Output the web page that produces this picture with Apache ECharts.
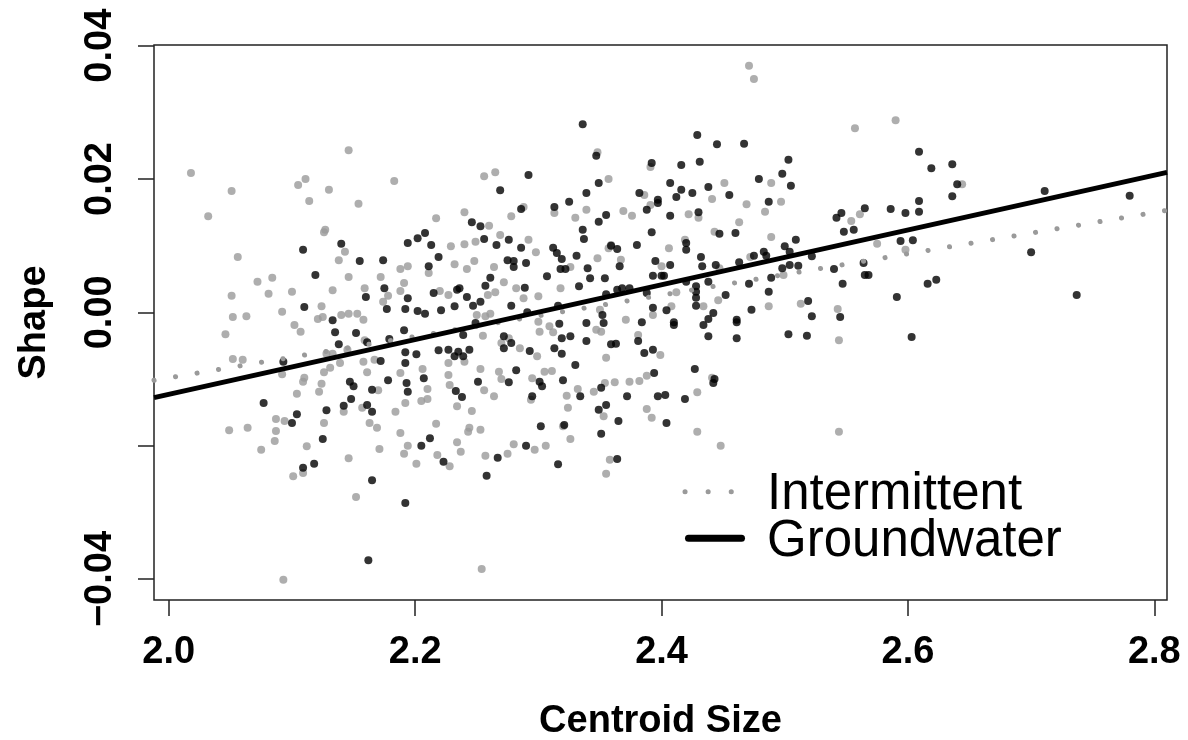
<!DOCTYPE html>
<html>
<head>
<meta charset="utf-8">
<script src="https://cdn.jsdelivr.net/npm/echarts@6/dist/echarts.min.js"></script>
<style>
html,body{margin:0;padding:0;background:#fff;}
#chart{width:1188px;height:740px;}
</style>
</head>
<body>
<div id="chart"></div>
<script>
// ---- data (Centroid Size, Shape) ----
const xTicks = [2.0, 2.2, 2.4, 2.6, 2.8];
const yTicks = [-0.04, -0.02, 0.00, 0.02, 0.04];
const yLabelValues = [-0.04, 0.00, 0.02, 0.04];
const seriesNames = ['Intermittent', 'Groundwater'];

const intermittentPts = [
[2.018,0.0209],[2.051,0.0182],[2.032,0.0144],[2.105,0.0191],[2.111,0.0200],[2.130,0.0184],[2.114,0.0167],[2.146,0.0243],
[2.154,0.0163],[2.183,0.0197],[2.127,0.0124],[2.126,0.0120],[2.348,0.0240],[2.391,0.0218],[2.256,0.0204],[2.265,0.0210],
[2.357,0.0200],[2.313,0.0149],[2.288,0.0158],[2.386,0.0176],[2.391,0.0161],[2.369,0.0152],[2.376,0.0145],[2.339,0.0154],
[2.330,0.0142],[2.217,0.0141],[2.240,0.0150],[2.278,0.0144],[2.260,0.0130],[2.269,0.0116],[2.292,0.0109],
[2.471,0.0370],[2.475,0.0350],[2.557,0.0276],[2.590,0.0288],[2.451,0.0194],[2.441,0.0170],[2.489,0.0194],[2.497,0.0166],
[2.469,0.0162],[2.422,0.0147],[2.430,0.0142],[2.484,0.0151],[2.463,0.0135],[2.443,0.0121],[2.419,0.0109],[2.489,0.0113],
[2.561,0.0147],[2.554,0.0137],[2.644,0.0192],
[2.056,0.0083],[2.072,0.0046],[2.084,0.0052],[2.081,0.0028],[2.051,0.0025],[2.100,0.0031],[2.143,0.0091],[2.138,0.0078],
[2.146,0.0053],[2.133,0.0033],[2.172,0.0053],[2.178,0.0025],[2.159,0.0036],[2.188,0.0065],[2.194,0.0069],[2.191,0.0044],
[2.188,0.0032],[2.052,-0.0007],[2.063,-0.0006],[2.046,-0.0033],[2.092,0.0001],[2.124,0.0009],[2.121,-0.0010],[2.125,-0.0007],
[2.102,-0.0019],[2.107,-0.0029],[2.140,-0.0004],[2.146,-0.0002],[2.153,-0.0002],[2.158,-0.0011],[2.159,-0.0042],[2.174,0.0016],
[2.052,-0.0070],[2.060,-0.0071],[2.128,-0.0062],[2.133,-0.0062],[2.145,-0.0056],[2.092,-0.0093],[2.126,-0.0090],[2.131,-0.0083],
[2.139,-0.0076],[2.158,-0.0074],[2.167,-0.0071],[2.161,-0.0090],[2.188,-0.0091],[2.110,-0.0098],[2.109,-0.0104],[2.124,-0.0107],
[2.122,-0.0119],[2.104,-0.0122],[2.170,-0.0117],[2.157,-0.0143],[2.184,-0.0149],[2.192,-0.0136],[2.087,-0.0160],[2.094,-0.0163],
[2.049,-0.0177],[2.064,-0.0173],[2.087,-0.0178],[2.126,-0.0166],[2.142,-0.0149],[2.163,-0.0166],[2.169,-0.0173],[2.188,-0.0181],
[2.086,-0.0193],[2.075,-0.0206],[2.112,-0.0201],[2.109,-0.0241],[2.101,-0.0246],[2.146,-0.0219],[2.152,-0.0277],[2.171,-0.0205],
[2.191,-0.0212],[2.194,-0.0200],[2.093,-0.0401],
[2.201,-0.0227],[2.218,-0.0214],[2.228,-0.0231],[2.234,-0.0195],[2.237,-0.0209],[2.243,-0.0179],[2.253,-0.0176],[2.257,-0.0215],
[2.275,-0.0212],[2.280,-0.0198],[2.297,-0.0206],[2.306,-0.0200],[2.326,-0.0190],[2.358,-0.0221],[2.355,-0.0242],[2.254,-0.0385],
[2.429,-0.0179],[2.448,-0.0200],[2.544,-0.0179],
[2.406,0.0096],[2.447,0.0066],[2.472,0.0083],[2.499,0.0056],[2.575,0.0103],[2.598,0.0094],[2.412,0.0030],[2.434,0.0009],
[2.408,0.0009],[2.446,0.0018],[2.487,0.0009],[2.513,0.0013],[2.543,0.0005],[2.544,-0.0042],[2.399,-0.0064],[2.441,-0.0098],
[2.429,-0.0120],
[2.229,0.0099],[2.240,0.0102],[2.249,0.0106],[2.211,0.0059],[2.232,0.0072],[2.242,0.0065],[2.248,0.0077],[2.264,0.0068],
[2.298,0.0090],[2.326,0.0068],[2.348,0.0081],[2.357,0.0096],[2.359,0.0101],[2.367,0.0079],[2.400,0.0069],[2.318,0.0036],
[2.282,0.0036],[2.288,0.0021],[2.272,0.0045],[2.265,0.0030],[2.259,0.0026],[2.227,0.0026],[2.220,0.0032],[2.257,-0.0006],
[2.261,-0.0002],[2.250,-0.0004],[2.300,0.0024],[2.300,-0.0014],[2.309,-0.0021],[2.312,-0.0030],[2.350,0.0004],[2.351,-0.0029],
[2.301,-0.0029],[2.371,-0.0011],[2.381,-0.0034],[2.393,-0.0004],[2.347,-0.0026],[2.355,-0.0068],[2.299,-0.0066],[2.285,-0.0054],
[2.270,-0.0046],[2.276,-0.0039],[2.255,-0.0035],[2.240,-0.0074],[2.206,-0.0085],[2.227,-0.0076],[2.227,-0.0094],[2.228,-0.0109],
[2.210,-0.0115],[2.205,-0.0133],[2.210,-0.0130],[2.234,-0.0141],[2.246,-0.0148],[2.256,-0.0117],[2.253,-0.0085],[2.268,-0.0089],
[2.270,-0.0100],[2.264,-0.0126],[2.295,-0.0099],[2.305,-0.0089],[2.311,-0.0088],[2.294,-0.0131],[2.323,-0.0125],[2.332,-0.0115],
[2.324,-0.0143],[2.345,-0.0119],[2.354,-0.0106],[2.353,-0.0156],[2.362,-0.0105],[2.374,-0.0104],[2.382,-0.0103],[2.388,-0.0095],
[2.388,-0.0145],[2.392,-0.0158],[2.320,-0.0171],[2.217,-0.0167],[2.244,-0.0173]
];

const groundwaterPts = [
[2.336,0.0282],[2.347,0.0235],[2.392,0.0224],[2.292,0.0206],[2.269,0.0183],[2.349,0.0194],[2.339,0.0179],[2.325,0.0166],
[2.313,0.0158],[2.286,0.0155],[2.382,0.0179],[2.397,0.0169],[2.397,0.0164],[2.388,0.0154],[2.355,0.0146],[2.349,0.0136],
[2.336,0.0124],[2.392,0.0120],[2.246,0.0135],[2.253,0.0129],[2.208,0.0119],[2.202,0.0111],[2.256,0.0110],[2.276,0.0109],
[2.337,0.0110],
[2.429,0.0266],[2.445,0.0252],[2.467,0.0253],[2.416,0.0221],[2.431,0.0226],[2.503,0.0229],[2.407,0.0194],[2.416,0.0184],
[2.412,0.0173],[2.425,0.0179],[2.438,0.0188],[2.455,0.0176],[2.479,0.0200],[2.498,0.0208],[2.505,0.0190],[2.487,0.0166],
[2.430,0.0150],[2.407,0.0145],[2.447,0.0118],[2.460,0.0119],[2.509,0.0109],[2.542,0.0142],[2.546,0.0149],[2.565,0.0156],
[2.548,0.0121],[2.556,0.0124],[2.586,0.0155],[2.598,0.0149],[2.609,0.0241],[2.609,0.0167],[2.609,0.0151],
[2.619,0.0216],[2.636,0.0222],[2.640,0.0192],[2.636,0.0174],[2.711,0.0182],[2.780,0.0175],
[2.109,0.0094],[2.119,0.0056],[2.140,0.0103],[2.155,0.0077],[2.174,0.0078],[2.175,0.0036],[2.160,0.0023],[2.194,0.0104],
[2.194,0.0021],[2.110,0.0008],[2.133,-0.0012],[2.135,-0.0030],[2.152,-0.0031],[2.138,-0.0048],[2.161,-0.0045],[2.177,0.0005],
[2.192,0.0005],[2.179,-0.0040],[2.191,-0.0027],[2.192,-0.0060],[2.192,-0.0076],[2.093,-0.0074],[2.172,-0.0073],[2.178,-0.0102],
[2.147,-0.0104],[2.150,-0.0111],[2.165,-0.0116],[2.193,-0.0106],[2.077,-0.0136],[2.104,-0.0153],[2.128,-0.0147],[2.148,-0.0130],
[2.142,-0.0140],[2.161,-0.0139],[2.165,-0.0149],[2.100,-0.0166],
[2.125,-0.0190],[2.109,-0.0233],[2.118,-0.0227],[2.165,-0.0252],[2.192,-0.0286],[2.162,-0.0372],
[2.205,-0.0200],[2.212,-0.0189],[2.223,-0.0224],[2.258,-0.0245],[2.267,-0.0218],[2.290,-0.0200],[2.316,-0.0228],[2.351,-0.0182],
[2.364,-0.0220],
[2.420,0.0104],[2.420,0.0094],[2.407,0.0071],[2.402,0.0055],[2.432,0.0083],[2.433,0.0069],[2.444,0.0071],[2.463,0.0075],
[2.475,0.0085],[2.483,0.0091],[2.485,0.0085],[2.500,0.0099],[2.504,0.0091],[2.522,0.0084],[2.504,0.0071],[2.511,0.0070],
[2.498,0.0066],[2.540,0.0065],[2.547,0.0043],[2.564,0.0074],[2.565,0.0056],[2.568,0.0056],[2.594,0.0107],[2.604,0.0108],
[2.591,0.0023],[2.603,-0.0037],[2.438,0.0046],[2.420,0.0046],[2.428,0.0039],[2.428,0.0031],[2.428,0.0022],[2.428,0.0010],
[2.404,0.0003],[2.452,0.0026],[2.471,0.0043],[2.489,0.0052],[2.487,0.0031],[2.473,0.0004],[2.519,0.0017],[2.522,-0.0006],
[2.545,-0.0007],[2.442,-0.0001],[2.438,-0.0010],[2.410,-0.0015],[2.410,-0.0019],[2.434,-0.0019],[2.461,-0.0011],[2.461,-0.0015],
[2.438,-0.0036],[2.461,-0.0039],[2.503,-0.0033],[2.518,-0.0035],[2.427,-0.0085],[2.443,-0.0100],[2.442,-0.0106],[2.403,-0.0124],
[2.419,-0.0130],[2.404,-0.0166],
[2.700,0.0090],[2.616,0.0043],[2.623,0.0049],[2.737,0.0026],
[2.213,0.0101],[2.266,0.0101],[2.286,0.0097],[2.219,0.0083],[2.211,0.0069],[2.275,0.0078],[2.280,0.0077],[2.280,0.0068],
[2.290,0.0074],[2.312,0.0097],[2.315,0.0089],[2.319,0.0080],[2.318,0.0065],[2.322,0.0065],[2.331,0.0085],[2.340,0.0066],
[2.342,0.0051],[2.359,0.0100],[2.364,0.0095],[2.366,0.0069],[2.380,0.0101],[2.395,0.0077],[2.393,0.0055],[2.400,0.0055],
[2.354,0.0051],[2.307,0.0054],[2.333,0.0039],[2.289,0.0037],[2.261,0.0052],[2.257,0.0040],[2.234,0.0034],[2.236,0.0036],
[2.242,0.0023],[2.215,0.0029],[2.202,0.0002],[2.208,-0.0002],[2.221,0.0003],[2.232,0.0009],[2.247,0.0010],[2.253,0.0016],
[2.249,-0.0016],[2.278,0.0010],[2.291,0.0000],[2.316,0.0010],[2.355,0.0027],[2.364,0.0034],[2.368,0.0036],[2.374,0.0036],
[2.388,0.0029],[2.352,-0.0004],[2.353,-0.0016],[2.339,-0.0016],[2.317,-0.0017],[2.319,-0.0039],[2.326,-0.0036],[2.339,-0.0043],
[2.384,-0.0015],[2.381,-0.0043],[2.359,-0.0048],[2.363,-0.0047],[2.386,-0.0061],[2.393,-0.0056],[2.393,0.0007],[2.330,-0.0079],
[2.319,-0.0062],[2.313,-0.0054],[2.293,-0.0058],[2.272,-0.0036],[2.278,-0.0046],[2.272,-0.0054],[2.239,-0.0034],[2.219,-0.0057],
[2.227,-0.0056],[2.235,-0.0059],[2.232,-0.0066],[2.239,-0.0066],[2.244,-0.0056],[2.201,-0.0063],[2.207,-0.0099],[2.194,-0.0119],
[2.233,-0.0118],[2.238,-0.0127],[2.251,-0.0104],[2.276,-0.0105],[2.282,-0.0087],[2.301,-0.0104],[2.303,-0.0111],[2.320,-0.0102],
[2.295,-0.0126],[2.334,-0.0126],[2.351,-0.0113],[2.349,-0.0146],[2.355,-0.0139],[2.372,-0.0126],[2.394,-0.0091],[2.397,-0.0126],
[2.365,-0.0163],[2.302,-0.0171],[2.321,-0.0169]
];

// fitted regression lines (end points across the plot range)
const fitX = [1.988, 2.8103];
const intermittentFit = [-0.0102, 0.0153];
const groundwaterFit = [-0.0128, 0.0210];

// axis ranges
const xRange = [1.988, 2.8103];
const yRange = [-0.04315, 0.0401];

const FONT = "'Liberation Sans', Arial, sans-serif";
const GRAY = '#9a9a9a';

const chart = echarts.init(document.getElementById('chart'), null, {renderer: 'canvas'});
chart.setOption({
  animation: false,
  backgroundColor: '#fff',
  grid: {
    left: 154, right: 21, top: 45, bottom: 140,
    outerBoundsMode: 'none', containLabel: false,
    show: true, borderColor: '#222', borderWidth: 1.5, backgroundColor: 'transparent'
  },
  xAxis: {
    type: 'value', min: xRange[0], max: xRange[1],
    name: 'Centroid Size', nameLocation: 'middle', nameGap: 103,
    nameTextStyle: {fontFamily: FONT, fontSize: 38, fontWeight: 'bold', color: '#000'},
    axisLine: {show: false, onZero: false},
    axisTick: {show: true, length: 16, lineStyle: {color: '#222', width: 1.5}, customValues: xTicks},
    axisLabel: {
      fontFamily: FONT, fontSize: 38, fontWeight: 'bold', color: '#000', margin: 34,
      customValues: xTicks, formatter: v => v.toFixed(1)
    },
    splitLine: {show: false}
  },
  yAxis: {
    type: 'value', min: yRange[0], max: yRange[1],
    name: 'Shape', nameLocation: 'middle', nameGap: 100,
    nameTextStyle: {fontFamily: FONT, fontSize: 38, fontWeight: 'bold', color: '#000'},
    axisLine: {show: false, onZero: false},
    axisTick: {show: true, length: 16, lineStyle: {color: '#222', width: 1.5}, customValues: yTicks},
    axisLabel: {
      fontFamily: FONT, fontSize: 38, fontWeight: 'bold', color: '#000', margin: 34, rotate: 90,
      customValues: yLabelValues,
      formatter: v => (v < 0 ? '\u2212' : '') + Math.abs(v).toFixed(2)
    },
    splitLine: {show: false}
  },
  graphic: [
    {type: 'line', shape: {x1: 685, y1: 491.7, x2: 745, y2: 491.7},
     style: {stroke: GRAY, lineWidth: 5, lineDash: [0.1, 23], lineCap: 'round'}, silent: true},
    {type: 'text', left: 767, top: 469, silent: true,
     style: {text: seriesNames[0], font: "51px 'Liberation Sans', Arial, sans-serif", fill: '#000'}},
    {type: 'line', shape: {x1: 688.5, y1: 538.3, x2: 741.5, y2: 538.3},
     style: {stroke: '#000', lineWidth: 7, lineCap: 'round'}, silent: true},
    {type: 'text', left: 767, top: 516, silent: true,
     style: {text: seriesNames[1], font: "51px 'Liberation Sans', Arial, sans-serif", fill: '#000'}}
  ],
  series: [
    {
      type: 'scatter', name: 'IntermittentPoints', data: intermittentPts,
      symbol: 'circle', symbolSize: 8, itemStyle: {color: GRAY}, z: 2, silent: true
    },
    {
      type: 'scatter', name: 'GroundwaterPoints', data: groundwaterPts,
      symbol: 'circle', symbolSize: 8, itemStyle: {color: '#000'}, z: 3, silent: true
    },
    {
      type: 'line', name: seriesNames[0],
      data: fitX.map((x, i) => [x, intermittentFit[i]]),
      symbol: 'none', z: 4, silent: true, color: GRAY,
      lineStyle: {color: GRAY, width: 5, type: [0.1, 21.7], cap: 'round'}
    },
    {
      type: 'line', name: seriesNames[1],
      data: fitX.map((x, i) => [x, groundwaterFit[i]]),
      symbol: 'none', z: 5, silent: true, color: '#000',
      lineStyle: {color: '#000', width: 5}
    }
  ]
});
</script>
</body>
</html>
